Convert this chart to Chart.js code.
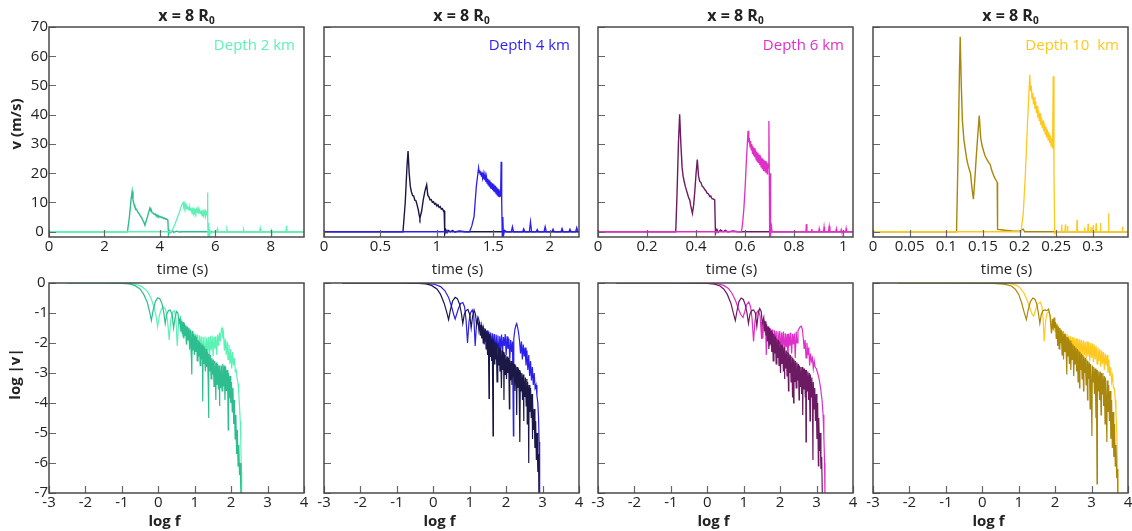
<!DOCTYPE html>
<html><head><meta charset="utf-8">
<script src="https://cdn.jsdelivr.net/npm/chart.js@4.4.1/dist/chart.umd.min.js"></script>
<style>
html,body{margin:0;padding:0;background:#fff;}
#wrap{position:relative;width:1132px;height:531px;overflow:hidden;font-family:"Open Sans",sans-serif;color:#222;}
canvas{position:absolute;}
.t{position:absolute;white-space:pre;line-height:1;transform:translate(-50%,-50%);}
.t sub{font-size:10px;vertical-align:-3px;line-height:0;}
</style></head><body><div id="wrap"></div>
<script>
// ---------- tick labels ----------
const vTicks = [0,10,20,30,40,50,60,70];
const logVTicks = [0,-1,-2,-3,-4,-5,-6,-7];
const logFTicks = [-3,-2,-1,0,1,2,3,4];
const time2Ticks = [0,2,4,6,8];
const time4Ticks = [0,0.5,1,1.5,2];
const time6Ticks = [0,0.2,0.4,0.6,0.8,1];
const time10Ticks = [0,0.05,0.1,0.15,0.2,0.25,0.3];
const depthLabels = ['Depth 2 km','Depth 4 km','Depth 6 km','Depth 10  km'];

// ---------- time series (t [s], v [m/s]) ----------
const t2Dark = [[0,0],[2.83,0],[2.9,5],[2.96,11],[3.0,13.8],[3.03,11],[3.07,9.2],[3.1,8.4],[3.14,7.8],[3.18,7.2],[3.22,6.5],[3.26,6.1],[3.3,5.3],[3.34,4.9],[3.38,4.0],[3.42,3.3],[3.46,2.2],[3.5,3.5],[3.55,5],[3.6,6.8],[3.64,8.1],[3.68,7.0],[3.7,7.1],[3.72,6.5],[3.76,6.4],[3.8,5.9],[3.83,6.1],[3.86,5.6],[3.9,5.7],[3.93,5.2],[3.96,5.4],[4.0,5.0],[4.03,5.2],[4.06,4.8],[4.1,4.9],[4.13,4.5],[4.16,4.7],[4.2,4.3],[4.24,4.4],[4.27,4.1],[4.29,3.8],[4.31,-1.0],[4.35,0.3],[4.4,-0.3],[4.45,0.3],[4.5,-0.2],[4.6,0.2],[4.7,-0.1],[4.8,0],[9.2,0]];
const t2Light = [[0,0],[4.42,0],[4.5,1.5],[4.6,4],[4.7,6.5],[4.78,9],[4.84,10],[4.86,8.8],[4.88,9.6],[4.9,8.4],[4.92,9.3],[4.94,8.1],[4.96,8.9],[4.98,7.9],[5.0,8.7],[5.02,7.6],[5.04,8.5],[5.06,7.5],[5.08,8.2],[5.1,7.3],[5.12,8.0],[5.14,7.0],[5.16,7.9],[5.18,7.1],[5.2,7.7],[5.22,6.8],[5.24,7.6],[5.26,6.9],[5.28,7.4],[5.3,6.6],[5.32,7.5],[5.34,6.7],[5.36,7.2],[5.38,6.4],[5.4,7.3],[5.42,6.5],[5.44,7.0],[5.46,6.3],[5.48,7.2],[5.5,6.2],[5.52,6.9],[5.54,6.3],[5.56,7.0],[5.58,6.0],[5.6,6.8],[5.62,5.9],[5.64,6.9],[5.66,5.8],[5.68,6.6],[5.7,6.0],[5.71,6.5],[5.72,13.4],[5.73,5.0],[5.74,-2.3],[5.76,3],[5.78,-2.0],[5.8,0.5],[5.85,-0.5],[5.9,0],[6.05,0],[6.08,1.0],[6.1,0],[6.4,0],[6.42,0.8],[6.44,0],[7.0,0],[7.02,0.7],[7.04,0],[7.6,0],[7.62,1.2],[7.64,0],[8.0,0],[8.02,0.6],[8.04,0],[8.55,0],[8.57,2],[8.59,0],[9.2,0]];
const t4Dark = [[0,0],[0.70,0],[0.72,10],[0.735,22],[0.745,27.6],[0.755,20],[0.765,15.5],[0.775,13.6],[0.785,12.4],[0.795,12.2],[0.805,10.8],[0.815,10.6],[0.825,9.2],[0.835,7.6],[0.845,5.4],[0.85,4.6],[0.865,7],[0.88,11],[0.895,14],[0.91,16.1],[0.92,12.5],[0.93,11.9],[0.94,10.9],[0.95,11.0],[0.96,10.1],[0.97,10.3],[0.98,9.4],[0.99,9.7],[1.0,8.8],[1.01,9.2],[1.02,8.3],[1.03,8.6],[1.04,7.7],[1.05,7.9],[1.06,7.0],[1.065,7.1],[1.07,-0.8],[1.08,0.6],[1.09,-0.3],[1.1,0.5],[1.12,0],[1.14,0.4],[1.16,-0.1],[1.2,0.3],[1.25,0],[1.3,0],[2.26,0]];
const t4Light = [[0,0],[1.29,0],[1.31,2],[1.33,5.2],[1.35,15.5],[1.37,21.8],[1.375,20.2],[1.38,21.0],[1.385,19.6],[1.39,20.6],[1.395,19.0],[1.4,20.2],[1.405,18.5],[1.41,19.8],[1.415,18.0],[1.42,19.4],[1.425,17.6],[1.43,19.0],[1.435,17.0],[1.44,18.6],[1.445,16.6],[1.45,18.2],[1.455,16.0],[1.46,17.8],[1.465,15.6],[1.47,17.5],[1.475,15.0],[1.48,17.0],[1.485,14.6],[1.49,16.6],[1.495,14.2],[1.5,16.2],[1.505,13.8],[1.51,15.8],[1.515,13.4],[1.52,15.6],[1.525,13.0],[1.53,15.2],[1.535,12.6],[1.54,14.8],[1.545,12.2],[1.55,14.5],[1.555,11.8],[1.56,14.0],[1.565,12.0],[1.57,23.9],[1.575,10],[1.58,-1.7],[1.585,5],[1.59,-1.5],[1.6,0.5],[1.62,0],[1.66,0],[1.67,1.7],[1.68,0],[1.76,0],[1.77,1.0],[1.78,0],[1.82,0],[1.83,3.4],[1.84,0],[1.88,0],[1.89,0.8],[1.9,0],[1.95,0],[1.96,1.7],[1.97,0],[2.02,0],[2.03,0.9],[2.04,0],[2.1,0],[2.11,1.1],[2.12,0],[2.17,0],[2.18,0.9],[2.19,0],[2.23,0],[2.24,1.4],[2.25,0],[2.26,0]];
const t6Dark = [[0,0],[0.317,0],[0.322,12],[0.328,30],[0.333,40.2],[0.338,30],[0.343,22],[0.347,19],[0.352,17],[0.356,15.5],[0.36,14.4],[0.365,13],[0.37,11.5],[0.374,10.9],[0.378,9],[0.382,7.5],[0.385,6.3],[0.39,9],[0.395,14],[0.4,20],[0.405,24.7],[0.41,19],[0.415,17.2],[0.42,16.8],[0.425,15.5],[0.43,15.2],[0.435,14.4],[0.44,14],[0.445,13.2],[0.45,13],[0.456,12],[0.46,12.2],[0.465,11.3],[0.47,11.2],[0.476,10.9],[0.479,-0.6],[0.485,0.8],[0.49,-0.2],[0.5,0.6],[0.51,0],[0.52,0.5],[0.53,-0.1],[0.55,0.3],[0.57,0],[0.59,0],[1.04,0]];
const t6Light = [[0,0],[0.585,0],[0.59,3],[0.595,8],[0.6,15],[0.605,24],[0.612,34.5],[0.615,30.5],[0.617,32],[0.62,29],[0.622,31],[0.625,28],[0.627,30],[0.63,26.8],[0.632,29.2],[0.635,26],[0.637,28.6],[0.64,25.4],[0.642,28],[0.645,24.6],[0.647,27.4],[0.65,24],[0.652,27],[0.655,23.4],[0.657,26.4],[0.66,22.8],[0.662,26],[0.665,22.2],[0.667,25.4],[0.67,21.6],[0.672,25],[0.675,21],[0.677,24.6],[0.68,20.6],[0.682,24.2],[0.685,20.2],[0.687,23.8],[0.69,19.8],[0.692,23.4],[0.694,21.8],[0.697,37.9],[0.699,15.5],[0.7,-1.8],[0.702,20],[0.704,-1.5],[0.706,3],[0.71,0],[0.848,0],[0.85,2.6],[0.852,0],[0.87,0],[0.872,0.9],[0.874,0],[0.9,0],[0.902,1.0],[0.904,0],[0.92,0],[0.922,1.6],[0.924,0],[0.94,0],[0.943,1.9],[0.946,0],[0.97,0],[0.972,1.0],[0.974,0],[0.99,0],[0.992,0.7],[0.994,0],[1.01,0],[1.012,1.1],[1.014,0],[1.04,0]];
const t10Dark = [[0,0],[0.114,0],[0.116,25],[0.118,55],[0.119,66.7],[0.1205,50],[0.122,38],[0.124,31.6],[0.126,28],[0.128,24.7],[0.13,22.5],[0.133,20],[0.135,15],[0.137,11.1],[0.139,18],[0.141,26],[0.143,33],[0.145,39.7],[0.147,32],[0.149,29.3],[0.151,27.5],[0.153,25.9],[0.156,24.5],[0.158,23.6],[0.16,23],[0.162,21],[0.165,19],[0.167,18],[0.169,17.2],[0.1695,16.8],[0.170,0.8],[0.175,0.7],[0.18,0.5],[0.19,0.3],[0.2,0.2],[0.205,0.9],[0.207,0],[0.348,0]];
const t10Light = [[0,0],[0.202,0],[0.205,6],[0.208,20],[0.211,38],[0.214,53.7],[0.215,48],[0.216,50],[0.217,45.5],[0.218,47.5],[0.219,43.5],[0.22,46],[0.221,42],[0.222,44.5],[0.223,40.5],[0.224,43],[0.225,39],[0.226,41.5],[0.227,37.8],[0.228,40.5],[0.229,36.5],[0.23,39],[0.231,35.4],[0.232,38],[0.233,34.4],[0.234,37],[0.235,33.4],[0.236,36],[0.237,32.2],[0.238,35],[0.239,31.4],[0.24,34],[0.241,30.4],[0.242,33],[0.243,29.4],[0.244,32],[0.245,28.5],[0.246,53.2],[0.247,20],[0.248,-0.6],[0.25,0],[0.257,0],[0.2575,2.5],[0.258,0],[0.262,0],[0.2625,2.5],[0.263,0],[0.265,0],[0.2655,2],[0.266,0],[0.278,0],[0.2785,4],[0.279,0],[0.288,0],[0.2885,1.5],[0.289,0],[0.293,0],[0.2935,2.7],[0.294,0],[0.297,0],[0.2975,1.6],[0.298,0],[0.3,0],[0.3005,2.2],[0.301,0],[0.304,0],[0.3045,2.9],[0.305,0],[0.31,0],[0.3105,3],[0.311,0],[0.321,0],[0.3215,6.3],[0.322,0],[0.34,0],[0.3405,1.8],[0.341,0],[0.348,0]];

// ---------- spectra (log f, log |v|) ----------
const s2Dark = [[-2.5,0],[-1.5,0],[-1.0,-0.01],[-0.8,-0.03],[-0.65,-0.08],[-0.5,-0.2],[-0.4,-0.38],[-0.3,-0.65],[-0.24,-0.95],[-0.19,-1.25],[-0.14,-0.9],[-0.08,-0.62],[-0.02,-0.5],[0.04,-0.52],[0.1,-0.68],[0.15,-0.98],[0.19,-1.35],[0.23,-1.05],[0.28,-0.92],[0.33,-0.9],[0.38,-1.05],[0.42,-1.5],[0.46,-1.15],[0.5,-0.95],[0.54,-1.0],[0.57,-1.35],
[0.60,-1.20],[0.62,-1.62],[0.64,-1.28],[0.66,-1.70],[0.68,-1.30],[0.70,-1.85],[0.72,-1.35],[0.74,-1.75],[0.76,-1.42],[0.78,-2.05],[0.80,-1.45],[0.82,-1.90],[0.84,-1.50],[0.86,-2.20],[0.88,-1.55],[0.90,-2.00],[0.92,-3.05],[0.93,-1.60],[0.95,-2.25],[0.97,-1.70],[0.99,-2.40],[1.01,-1.75],[1.03,-2.30],[1.05,-1.80],[1.07,-2.60],[1.09,-1.90],[1.11,-2.45],[1.13,-1.95],[1.15,-2.75],[1.17,-2.00],[1.19,-2.55],[1.21,-2.05],[1.22,-3.95],[1.23,-2.10],[1.25,-2.70],[1.27,-2.15],[1.29,-2.95],[1.31,-2.20],[1.33,-2.80],[1.35,-2.30],[1.37,-3.30],[1.38,-4.50],[1.39,-2.35],[1.41,-2.95],[1.43,-2.40],[1.45,-3.20],[1.47,-2.50],[1.49,-3.05],[1.51,-2.55],[1.53,-3.45],[1.55,-2.60],[1.57,-3.30],[1.58,-3.90],[1.59,-2.65],[1.61,-3.40],[1.63,-2.70],[1.65,-3.55],[1.67,-2.75],[1.68,-4.10],[1.69,-2.80],[1.71,-3.50],[1.73,-2.75],[1.75,-3.60],[1.77,-2.70],[1.79,-3.45],[1.81,-2.75],[1.83,-3.90],[1.85,-2.80],[1.87,-3.60],[1.89,-2.90],[1.91,-3.80],[1.92,-4.90],[1.93,-3.00],[1.95,-3.85],[1.97,-3.10],[1.99,-4.00],[2.01,-3.30],[2.03,-4.30],[2.05,-3.50],[2.07,-4.70],[2.09,-3.90],[2.11,-5.20],[2.13,-4.40],[2.15,-5.70],[2.17,-4.90],[2.19,-6.10],[2.21,-5.40],[2.23,-6.40],[2.25,-6.00],[2.27,-7.20]];
const s2Light = [[-2.5,0],[-1.5,0],[-1.0,0],[-0.8,-0.02],[-0.6,-0.05],[-0.45,-0.12],[-0.3,-0.28],[-0.2,-0.5],[-0.12,-0.8],[-0.06,-1.1],[-0.02,-1.45],[0.03,-1.1],[0.08,-0.88],[0.14,-0.8],[0.2,-0.88],[0.25,-1.2],[0.3,-1.9],[0.34,-1.25],[0.39,-0.98],[0.44,-0.92],[0.48,-1.1],[0.52,-2.1],[0.56,-1.3],
[0.60,-1.15],[0.625,-1.35],[0.65,-1.25],[0.67,-1.80],[0.69,-1.32],[0.715,-1.65],[0.74,-1.40],[0.765,-2.05],[0.79,-1.48],[0.815,-1.85],[0.84,-1.55],[0.865,-2.25],[0.89,-1.60],[0.91,-2.45],[0.93,-1.62],[0.955,-2.00],[0.98,-1.68],[1.005,-2.30],[1.03,-1.70],[1.055,-2.15],[1.08,-1.72],[1.105,-2.45],[1.13,-1.75],[1.155,-2.20],[1.18,-1.78],[1.205,-2.55],[1.23,-1.80],[1.255,-2.25],[1.28,-1.78],[1.305,-2.60],[1.33,-1.82],[1.355,-2.30],[1.38,-1.80],[1.405,-2.50],[1.43,-1.78],[1.455,-2.25],[1.48,-1.75],[1.505,-2.45],[1.53,-1.80],[1.555,-2.20],[1.58,-1.78],[1.605,-2.40],[1.63,-1.72],[1.655,-2.10],[1.68,-1.65],[1.705,-1.95],[1.73,-1.55],[1.75,-1.50],[1.77,-1.85],[1.79,-1.70],[1.815,-2.25],[1.84,-1.85],[1.865,-2.40],[1.89,-1.95],[1.915,-2.55],[1.94,-2.05],[1.965,-2.70],[1.99,-2.20],[2.015,-2.85],[2.04,-2.30],[2.065,-2.75],[2.09,-2.50],[2.115,-2.95],[2.14,-2.90],[2.165,-3.20],[2.19,-3.35],[2.21,-3.70],[2.23,-4.10],[2.25,-4.60],[2.265,-5.30],[2.28,-6.30],[2.29,-7.20]];
const s4Dark = [[-2.5,0],[-1.0,0],[-0.4,-0.01],[-0.2,-0.03],[-0.05,-0.08],[0.1,-0.2],[0.2,-0.38],[0.3,-0.68],[0.37,-0.98],[0.42,-1.22],[0.47,-0.9],[0.53,-0.6],[0.6,-0.48],[0.66,-0.52],[0.72,-0.7],[0.77,-1.0],[0.81,-1.35],[0.85,-1.05],[0.9,-0.92],[0.95,-0.88],[1.0,-1.05],[1.04,-1.5],[1.08,-1.1],[1.12,-0.9],[1.16,-1.05],[1.19,-1.4],[1.22,-1.2],
[1.25,-1.55],[1.27,-1.30],[1.29,-1.75],[1.31,-1.40],[1.33,-1.85],[1.35,-1.45],[1.37,-2.00],[1.39,-1.50],[1.41,-1.95],[1.43,-1.55],[1.45,-2.20],[1.47,-1.60],[1.49,-2.40],[1.51,-1.65],[1.53,-3.85],[1.54,-1.70],[1.56,-2.45],[1.58,-1.75],[1.60,-2.60],[1.62,-1.85],[1.64,-5.10],[1.65,-1.90],[1.67,-2.70],[1.69,-1.95],[1.71,-2.55],[1.73,-2.00],[1.75,-3.30],[1.77,-2.05],[1.79,-2.75],[1.81,-2.15],[1.83,-2.95],[1.85,-2.20],[1.87,-3.50],[1.89,-2.25],[1.91,-2.90],[1.93,-2.30],[1.94,-3.90],[1.95,-2.35],[1.97,-3.05],[1.99,-2.40],[2.01,-3.20],[2.03,-2.45],[2.05,-3.00],[2.07,-2.50],[2.09,-4.20],[2.10,-2.55],[2.12,-3.25],[2.14,-2.60],[2.16,-3.40],[2.18,-2.65],[2.20,-3.15],[2.22,-2.70],[2.24,-3.60],[2.26,-2.75],[2.28,-3.35],[2.29,-4.40],[2.30,-2.80],[2.32,-3.50],[2.34,-2.85],[2.36,-3.70],[2.37,-2.90],[2.38,-5.30],[2.39,-2.95],[2.41,-3.60],[2.43,-3.00],[2.45,-3.90],[2.47,-3.05],[2.48,-4.60],[2.49,-3.10],[2.51,-3.80],[2.53,-3.15],[2.55,-4.10],[2.57,-3.20],[2.58,-4.70],[2.59,-3.30],[2.61,-4.00],[2.62,-6.00],[2.63,-3.40],[2.65,-4.30],[2.67,-3.50],[2.69,-4.50],[2.71,-3.70],[2.72,-5.20],[2.73,-3.90],[2.75,-4.90],[2.77,-4.20],[2.79,-5.50],[2.81,-4.60],[2.83,-5.90],[2.85,-5.00],[2.87,-6.30],[2.89,-5.70],[2.90,-7.20]];
const s4Light = [[-2.5,0],[-1.0,0],[-0.3,0],[-0.1,-0.02],[0.05,-0.05],[0.2,-0.12],[0.32,-0.26],[0.42,-0.48],[0.5,-0.78],[0.56,-1.05],[0.6,-1.2],[0.64,-1.05],[0.69,-0.85],[0.75,-0.68],[0.81,-0.65],[0.86,-0.8],[0.9,-1.25],[0.94,-2.0],[0.98,-1.3],[1.02,-1.0],[1.07,-0.9],[1.11,-1.05],[1.15,-2.1],[1.19,-1.3],[1.23,-1.15],[1.27,-1.3],
[1.30,-1.75],[1.325,-1.40],[1.35,-1.60],[1.375,-1.48],[1.40,-2.05],[1.425,-1.52],[1.45,-1.90],[1.475,-1.58],[1.50,-2.25],[1.525,-1.62],[1.55,-2.00],[1.575,-1.65],[1.60,-2.35],[1.625,-1.68],[1.65,-2.10],[1.675,-1.70],[1.70,-2.45],[1.725,-1.72],[1.75,-2.15],[1.775,-1.75],[1.80,-2.50],[1.825,-1.78],[1.85,-2.20],[1.875,-1.72],[1.90,-2.35],[1.925,-1.80],[1.95,-2.10],[1.975,-1.70],[2.00,-2.40],[2.025,-1.78],[2.05,-2.20],[2.075,-1.85],[2.10,-2.55],[2.125,-1.90],[2.15,-2.30],[2.175,-1.95],[2.20,-5.10],[2.21,-1.85],[2.24,-1.55],[2.27,-1.40],[2.29,-1.35],[2.31,-1.45],[2.34,-1.65],[2.37,-1.95],[2.395,-2.35],[2.42,-1.95],[2.445,-2.55],[2.47,-2.05],[2.495,-2.45],[2.52,-2.15],[2.545,-2.75],[2.57,-2.25],[2.595,-2.90],[2.62,-2.40],[2.645,-3.10],[2.67,-2.60],[2.695,-3.25],[2.72,-2.80],[2.745,-3.40],[2.77,-3.00],[2.795,-3.50],[2.82,-3.40],[2.845,-3.75],[2.87,-4.00],[2.89,-4.50],[2.905,-5.30],[2.915,-6.20],[2.925,-7.20]];
const s6Dark = [[-2.5,0],[-1.0,0],[0.0,-0.01],[0.2,-0.04],[0.35,-0.1],[0.45,-0.2],[0.55,-0.38],[0.65,-0.68],[0.71,-0.98],[0.77,-1.25],[0.82,-0.9],[0.87,-0.62],[0.93,-0.5],[0.99,-0.55],[1.04,-0.72],[1.09,-1.0],[1.13,-1.35],[1.17,-1.05],[1.22,-0.92],[1.27,-0.9],[1.32,-1.0],[1.36,-1.45],[1.4,-1.0],[1.44,-0.85],[1.48,-0.95],[1.51,-1.35],
[1.55,-1.15],[1.57,-1.60],[1.59,-1.28],[1.61,-1.75],[1.63,-1.38],[1.65,-1.95],[1.67,-1.45],[1.69,-2.20],[1.71,-1.50],[1.73,-2.05],[1.75,-1.58],[1.77,-2.30],[1.79,-1.65],[1.81,-2.60],[1.83,-1.70],[1.85,-2.35],[1.87,-1.78],[1.89,-2.70],[1.91,-1.85],[1.93,-2.50],[1.95,-1.90],[1.97,-2.75],[1.99,-1.95],[2.01,-3.00],[2.03,-2.05],[2.05,-2.70],[2.07,-2.10],[2.09,-2.95],[2.11,-2.15],[2.12,-3.20],[2.13,-2.20],[2.15,-2.85],[2.17,-2.25],[2.19,-3.10],[2.21,-2.30],[2.23,-3.60],[2.24,-2.35],[2.26,-3.00],[2.28,-2.40],[2.30,-3.30],[2.32,-2.45],[2.34,-3.80],[2.35,-2.50],[2.37,-4.00],[2.38,-2.55],[2.40,-3.30],[2.42,-2.60],[2.44,-3.50],[2.46,-2.65],[2.48,-3.25],[2.50,-2.70],[2.52,-3.90],[2.53,-2.75],[2.55,-3.45],[2.57,-2.80],[2.59,-3.70],[2.61,-2.80],[2.62,-4.40],[2.63,-2.85],[2.65,-3.55],[2.67,-2.85],[2.69,-3.80],[2.70,-2.90],[2.71,-5.30],[2.72,-2.90],[2.74,-3.60],[2.76,-2.95],[2.78,-3.90],[2.80,-3.00],[2.82,-4.60],[2.83,-3.05],[2.85,-3.80],[2.87,-3.15],[2.89,-4.30],[2.90,-5.90],[2.91,-3.30],[2.93,-4.20],[2.95,-3.50],[2.97,-4.60],[2.99,-3.70],[3.01,-5.20],[3.03,-4.00],[3.05,-6.10],[3.06,-4.50],[3.08,-5.60],[3.10,-5.00],[3.12,-6.20],[3.14,-5.80],[3.16,-7.20]];
const s6Light = [[-2.5,0],[-1.0,0],[0.0,0],[0.3,-0.03],[0.45,-0.08],[0.58,-0.18],[0.68,-0.35],[0.78,-0.6],[0.85,-0.85],[0.92,-1.05],[0.98,-1.15],[1.03,-0.95],[1.08,-0.72],[1.14,-0.63],[1.19,-0.8],[1.23,-1.2],[1.27,-1.95],[1.31,-1.25],[1.35,-1.0],[1.4,-0.92],[1.45,-1.1],[1.49,-1.85],
[1.50,-1.30],[1.525,-1.85],[1.55,-1.22],[1.575,-1.55],[1.60,-1.40],[1.62,-2.40],[1.64,-1.45],[1.665,-1.90],[1.69,-1.50],[1.715,-2.10],[1.74,-1.52],[1.765,-1.95],[1.79,-1.55],[1.815,-2.25],[1.84,-1.58],[1.865,-2.00],[1.89,-1.60],[1.915,-2.30],[1.94,-1.62],[1.965,-2.05],[1.99,-1.60],[2.015,-2.35],[2.04,-1.65],[2.065,-2.10],[2.09,-1.62],[2.115,-2.40],[2.14,-1.68],[2.165,-2.15],[2.19,-1.70],[2.215,-2.45],[2.24,-1.68],[2.265,-2.10],[2.29,-1.65],[2.315,-2.35],[2.34,-1.70],[2.365,-2.05],[2.39,-1.68],[2.415,-2.50],[2.44,-1.62],[2.465,-2.00],[2.49,-1.60],[2.52,-1.52],[2.55,-1.46],[2.58,-1.44],[2.61,-1.55],[2.635,-1.85],[2.66,-2.20],[2.685,-1.90],[2.71,-2.50],[2.735,-2.00],[2.76,-2.40],[2.785,-2.15],[2.81,-2.75],[2.835,-2.35],[2.86,-2.60],[2.885,-2.50],[2.91,-2.85],[2.935,-2.60],[2.96,-2.80],[2.99,-2.85],[3.03,-3.00],[3.07,-3.20],[3.11,-3.50],[3.15,-3.90],[3.18,-4.40],[3.20,-5.10],[3.22,-6.00],[3.23,-7.20]];
const s10Dark = [[-2.3,0],[-1.0,0],[0.3,-0.01],[0.6,-0.04],[0.8,-0.1],[0.9,-0.2],[1.0,-0.38],[1.08,-0.66],[1.15,-0.98],[1.21,-1.22],[1.26,-0.9],[1.32,-0.62],[1.39,-0.5],[1.45,-0.55],[1.5,-0.72],[1.54,-1.0],[1.58,-1.35],[1.62,-1.05],[1.67,-0.92],[1.72,-0.9],[1.77,-0.92],[1.82,-0.87],[1.86,-1.1],[1.9,-1.68],
[1.93,-1.20],[1.95,-1.55],[1.97,-1.15],[1.99,-1.50],[2.01,-1.30],[2.03,-1.85],[2.05,-1.38],[2.07,-2.10],[2.09,-1.45],[2.11,-2.20],[2.13,-1.50],[2.15,-2.00],[2.17,-1.58],[2.19,-2.40],[2.21,-1.62],[2.23,-2.55],[2.25,-1.70],[2.27,-2.30],[2.29,-1.75],[2.31,-2.60],[2.32,-3.05],[2.33,-1.80],[2.35,-2.45],[2.37,-1.85],[2.39,-2.70],[2.41,-1.92],[2.43,-2.90],[2.45,-2.00],[2.47,-2.55],[2.49,-2.05],[2.51,-3.10],[2.53,-2.10],[2.55,-2.70],[2.57,-2.15],[2.59,-2.95],[2.61,-2.20],[2.63,-3.30],[2.65,-2.25],[2.67,-3.50],[2.68,-2.30],[2.70,-2.90],[2.72,-2.35],[2.74,-3.20],[2.76,-2.40],[2.78,-3.60],[2.79,-2.45],[2.81,-3.00],[2.83,-2.50],[2.85,-3.40],[2.87,-2.55],[2.89,-3.90],[2.90,-2.60],[2.92,-3.20],[2.94,-2.65],[2.96,-4.20],[2.97,-2.70],[2.99,-3.40],[3.01,-5.10],[3.02,-2.75],[3.04,-3.30],[3.06,-2.80],[3.08,-3.70],[3.10,-2.85],[3.12,-4.50],[3.13,-2.90],[3.15,-6.70],[3.16,-2.90],[3.18,-3.60],[3.20,-2.95],[3.22,-3.90],[3.24,-2.95],[3.26,-4.40],[3.27,-3.00],[3.29,-3.70],[3.31,-3.00],[3.33,-4.10],[3.35,-3.10],[3.37,-4.70],[3.38,-3.15],[3.40,-4.00],[3.42,-5.30],[3.43,-3.25],[3.45,-4.30],[3.47,-3.40],[3.49,-4.60],[3.51,-3.60],[3.53,-5.20],[3.55,-3.90],[3.57,-5.50],[3.59,-4.30],[3.61,-5.80],[3.63,-4.70],[3.65,-6.10],[3.67,-5.40],[3.69,-6.50],[3.71,-6.20],[3.72,-7.20]];
const s10Light = [[-2.3,0],[-1.0,0],[0.5,0],[0.8,-0.03],[0.95,-0.08],[1.05,-0.18],[1.15,-0.35],[1.24,-0.6],[1.31,-0.85],[1.37,-1.05],[1.41,-1.1],[1.46,-0.9],[1.52,-0.7],[1.59,-0.63],[1.64,-0.8],[1.67,-1.2],[1.7,-1.95],[1.74,-1.25],[1.78,-1.0],[1.83,-0.95],[1.87,-1.1],
[1.90,-1.50],[1.925,-1.20],[1.95,-1.60],[1.975,-1.25],[2.00,-1.65],[2.025,-1.35],[2.05,-1.85],[2.075,-1.42],[2.10,-1.95],[2.125,-1.50],[2.15,-2.05],[2.175,-1.55],[2.20,-2.10],[2.225,-1.60],[2.25,-2.20],[2.275,-1.65],[2.30,-2.15],[2.325,-1.70],[2.35,-2.30],[2.375,-1.75],[2.40,-2.20],[2.425,-1.78],[2.45,-2.35],[2.475,-1.80],[2.50,-2.25],[2.525,-1.82],[2.55,-2.40],[2.575,-1.85],[2.60,-2.30],[2.625,-1.85],[2.65,-2.45],[2.675,-1.88],[2.70,-2.35],[2.725,-1.90],[2.75,-2.50],[2.775,-1.92],[2.80,-2.40],[2.825,-1.95],[2.85,-2.55],[2.875,-1.95],[2.90,-2.45],[2.925,-1.98],[2.95,-2.60],[2.975,-2.00],[3.00,-2.50],[3.025,-2.02],[3.05,-2.65],[3.075,-2.05],[3.10,-2.55],[3.125,-2.10],[3.15,-2.70],[3.175,-2.15],[3.20,-2.60],[3.225,-2.20],[3.25,-2.80],[3.275,-2.25],[3.30,-2.70],[3.325,-2.30],[3.35,-2.90],[3.375,-2.35],[3.40,-2.75],[3.425,-2.40],[3.45,-3.00],[3.475,-2.55],[3.50,-3.10],[3.525,-2.80],[3.55,-3.30],[3.575,-3.10],[3.60,-3.50],[3.625,-3.50],[3.65,-3.90],[3.67,-4.30],[3.69,-4.90],[3.71,-6.00],[3.73,-7.20]];

// ---------- layout / style ----------
const FONT = '"Open Sans", sans-serif';
const PW = 255, PH = 210, L = 40, R = 12, T = 10, B = 28;
const rowTop = [27, 283];
const colLeft = [49, 324, 598, 873];
const panels = [
  {tMax:9.2,  tTicks:time2Ticks,  light:'#5cf2b6', dark:'#2ebd8e', tD:t2Dark,  tL:t2Light,  sD:s2Dark,  sL:s2Light},
  {tMax:2.26, tTicks:time4Ticks,  light:'#2b1fee', dark:'#1b1848', tD:t4Dark,  tL:t4Light,  sD:s4Dark,  sL:s4Light},
  {tMax:1.04, tTicks:time6Ticks,  light:'#e02ec8', dark:'#6c1a62', tD:t6Dark,  tL:t6Light,  sD:s6Dark,  sL:s6Light},
  {tMax:0.348,tTicks:time10Ticks, light:'#ffc81e', dark:'#a9870c', tD:t10Dark, tL:t10Light, sD:s10Dark, sL:s10Light}
];

const frameTicks = {
  id: 'frameTicks',
  afterDatasetsDraw(chart) {
    const {ctx, chartArea: a, scales: {x, y}} = chart;
    ctx.save();
    ctx.strokeStyle = '#666'; ctx.lineWidth = 1.2;
    ctx.beginPath();
    x.ticks.forEach(t => { const px = Math.round(x.getPixelForValue(t.value)) + 0.5; ctx.moveTo(px, a.bottom); ctx.lineTo(px, a.bottom - 7); });
    y.ticks.forEach(t => { const py = Math.round(y.getPixelForValue(t.value)) + 0.5; ctx.moveTo(a.left, py); ctx.lineTo(a.left + 7, py); });
    ctx.stroke();
    ctx.strokeStyle = '#4a4a4a'; ctx.lineWidth = 1.5;
    ctx.strokeRect(a.left, a.top, a.right - a.left, a.bottom - a.top);
    ctx.restore();
  }
};

const wrap = document.getElementById('wrap');
function toXY(arr) { return arr.map(p => ({x: p[0], y: p[1]})); }

function makeChart(left, top, xMin, xMax, xTicks, yMin, yMax, yTicks, showY, datasets) {
  const c = document.createElement('canvas');
  c.width = L + PW + R; c.height = T + PH + B;
  c.style.left = (left - L) + 'px'; c.style.top = (top - T) + 'px';
  wrap.appendChild(c);
  const tickFont = {family: FONT, size: 15};
  new Chart(c, {
    type: 'line',
    data: {datasets},
    options: {
      responsive: false, animation: false, devicePixelRatio: 1, events: [],
      layout: {padding: {left: 0, right: R, top: T, bottom: 0}},
      plugins: {legend: {display: false}, tooltip: {enabled: false}, title: {display: false}},
      elements: {point: {radius: 0}, line: {tension: 0}},
      scales: {
        x: {type: 'linear', min: xMin, max: xMax,
            afterBuildTicks: s => { s.ticks = xTicks.map(v => ({value: v})); },
            afterFit: s => { s.height = B; },
            grid: {display: false, drawTicks: false}, border: {display: false},
            ticks: {padding: 1, color: '#222', font: tickFont, maxRotation: 0, autoSkip: false, callback: v => String(v)}},
        y: {type: 'linear', min: yMin, max: yMax,
            afterBuildTicks: s => { s.ticks = yTicks.map(v => ({value: v})); },
            afterFit: s => { s.width = L; },
            grid: {display: false, drawTicks: false}, border: {display: false},
            ticks: {display: showY, padding: 1, crossAlign: 'center', color: '#222', font: tickFont, autoSkip: false, callback: v => String(v)}}
      }
    },
    plugins: [frameTicks]
  });
}

function addText(html, x, y, style) {
  const d = document.createElement('div');
  d.className = 't';
  d.innerHTML = html;
  d.style.cssText = `left:${x}px;top:${y}px;` + style;
  wrap.appendChild(d);
}

panels.forEach((p, i) => {
  const left = colLeft[i];
  // time series: first dataset drawn on top
  makeChart(left, rowTop[0], 0, p.tMax, p.tTicks, -1.8, 70, vTicks, i === 0, [
    {data: toXY(p.tL), borderColor: p.light, borderWidth: 1.3, parsing: false},
    {data: toXY(p.tD), borderColor: p.dark, borderWidth: 1.4, parsing: false}
  ]);
  // spectra
  makeChart(left, rowTop[1], -3, 4, logFTicks, -7, 0, logVTicks, i === 0, [
    {data: toXY(p.sD), borderColor: p.dark, borderWidth: 1.2, parsing: false},
    {data: toXY(p.sL), borderColor: p.light, borderWidth: 1.2, parsing: false}
  ]);
  const cx = left + PW / 2;
  addText(`x = 8 R<sub>0</sub>`, cx + 10, 15, 'font-weight:700;font-size:16px;');
  addText(depthLabels[i], left + PW - 9, 44, `font-size:15px;color:${p.light};transform:translate(-100%,-50%);`);
  addText('time (s)', cx + 6, 268, 'font-size:15px;');
  addText('log f', cx - 12, 520, 'font-weight:700;font-size:15px;');
});
addText('v (m/s)', 15, 124, 'font-weight:700;font-size:15px;transform:translate(-50%,-50%) rotate(-90deg);');
addText('log |v|', 14, 374, 'font-weight:700;font-size:15px;transform:translate(-50%,-50%) rotate(-90deg);');
</script></body></html>
